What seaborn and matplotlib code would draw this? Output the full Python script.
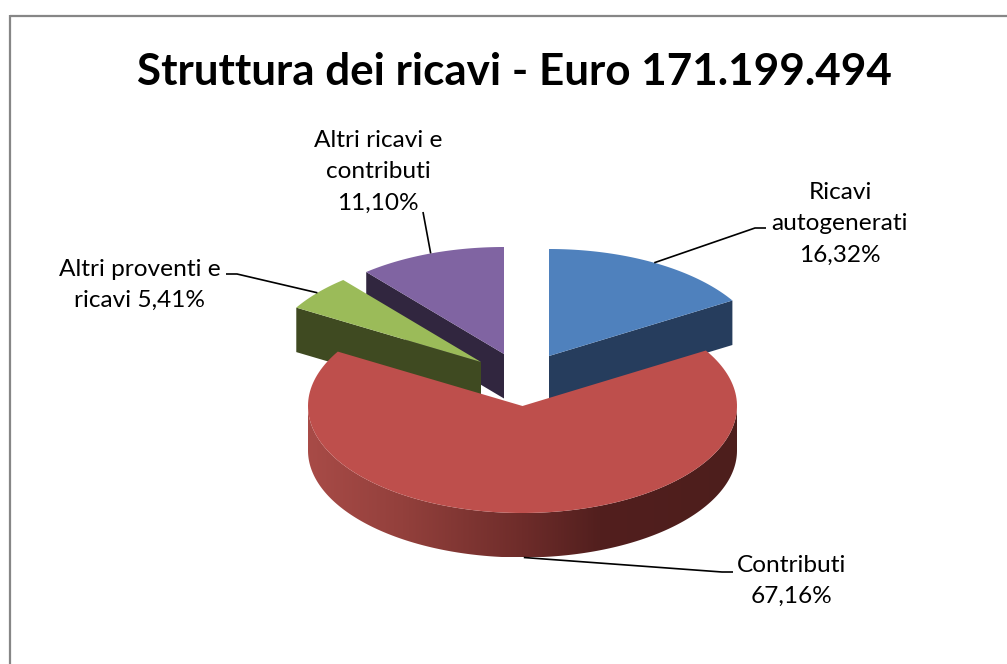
import numpy as np
import matplotlib
matplotlib.use("Agg")
import matplotlib.pyplot as plt
from matplotlib.patches import Polygon
import seaborn as sns

title = "Struttura dei ricavi - Euro 171.199.494"
categories = ["Ricavi\nautogenerati", "Contributi", "Altri proventi e\nricavi", "Altri ricavi e\ncontributi"]
shares = [16.32, 67.16, 5.41, 11.10]
value_labels = ["\n16,32%", "\n67,16%", " 5,41%", "\n11,10%"]
top_colors = ["#4F81BD", "#BE4F4C", "#9BBB59", "#8064A2"]
face_colors = ["#263D5D", "#4F1F1D", "#3F4A21", "#31263F"]
apex_x = [549, 522.5, 481, 504]
apex_y = [356, 406, 362, 354]
label_x = [840, 792, 140, 378]
label_y = [224, 581, 285, 172]
elbows = [[(755, 228), (766, 228)], [(722, 572), (733, 572)], [(237, 274), (226, 274)], [(423, 212)]]
side_stops = ["#A84B47", "#93403C", "#6E2C2A", "#521F1E", "#4D1E1C"]

RX, RY, DEPTH = 214.5, 107, 44.5
FONT = "Lato"

sns.set_theme(style="white")
plt.rcParams["font.family"] = [FONT, "DejaVu Sans"]

fig = plt.figure(figsize=(10.07, 6.64), dpi=100, facecolor="white")
ax = fig.add_axes([0, 0, 1, 1])
ax.set_axis_off()
ax.set_xlim(0, 1007)
ax.set_ylim(664, 0)

# chart frame: only top and left edges are visible
ax.plot([9.5, 1007], [15.5, 15.5], color="#868686", lw=1.6, solid_capstyle="butt", zorder=1)
ax.plot([9.5, 9.5], [15, 664], color="#868686", lw=1.6, solid_capstyle="butt", zorder=1)

edges = np.concatenate([[0], np.cumsum(shares)]) / np.sum(shares) * 2 * np.pi


def rim(i, n=160):
    t = np.linspace(edges[i], edges[i + 1], n)
    return apex_x[i] + RX * np.sin(t), apex_y[i] - RY * np.cos(t)


def draw_slice(i, z):
    x, y = rim(i)
    ax.add_patch(Polygon(np.column_stack([np.r_[apex_x[i], x], np.r_[apex_y[i], y]]),
                         closed=True, fc=top_colors[i], ec="none", zorder=z + 1))


def draw_cut_face(i, t, z):
    ox = apex_x[i] + RX * np.sin(t)
    oy = apex_y[i] - RY * np.cos(t)
    pts = [(apex_x[i], apex_y[i]), (ox, oy), (ox, oy + DEPTH), (apex_x[i], apex_y[i] + DEPTH)]
    ax.add_patch(Polygon(pts, closed=True, fc=face_colors[i], ec="none", zorder=z))


# back slices first, the large red slice overlaps their cut faces
draw_cut_face(3, edges[3], 2)
draw_slice(3, 2)
draw_cut_face(2, edges[2], 4)
draw_slice(2, 4)
draw_cut_face(0, edges[1], 6)
draw_slice(0, 6)

# red slice: rim wall with horizontal gradient, then top
t = np.linspace(np.pi / 2, 3 * np.pi / 2, 200)
wx = apex_x[1] + RX * np.sin(t)
wy = apex_y[1] - RY * np.cos(t)
wall = Polygon(np.column_stack([np.r_[wx, wx[::-1]], np.r_[wy, wy[::-1] + DEPTH]]),
               closed=True, transform=ax.transData, fc="none", ec="none")
ax.add_patch(wall)
cmap = matplotlib.colors.LinearSegmentedColormap.from_list(
    "wall", list(zip([0, 0.22, 0.5, 0.68, 1], side_stops)))
im = ax.imshow(np.linspace(0, 1, 256)[None, :], cmap=cmap, aspect="auto", zorder=8,
               extent=[wx.min(), wx.max(), wy.max() + DEPTH, wy.min()], interpolation="bilinear")
im.set_clip_path(wall)
ax.set_xlim(0, 1007)
ax.set_ylim(664, 0)
draw_slice(1, 8)

# leader lines start on the rim at each slice's middle angle
mids = (edges[:-1] + edges[1:]) / 2
for i, m in enumerate(mids):
    sx = apex_x[i] + RX * np.sin(m)
    sy = apex_y[i] - RY * np.cos(m) + (DEPTH if i == 1 else 0)
    px = [sx] + [p[0] for p in elbows[i]]
    py = [sy] + [p[1] for p in elbows[i]]
    ax.plot(px, py, color="black", lw=1.2, zorder=12, solid_capstyle="butt")
    ax.text(label_x[i], label_y[i], categories[i] + value_labels[i], ha="center", va="center",
            fontsize=17.6, color="black", linespacing=1.6, zorder=13)

ax.text(514, 72, title, ha="center", va="center", fontsize=31.7, fontweight="bold",
        color="black", zorder=13)

fig.savefig("out.png", dpi=100, facecolor="white")
